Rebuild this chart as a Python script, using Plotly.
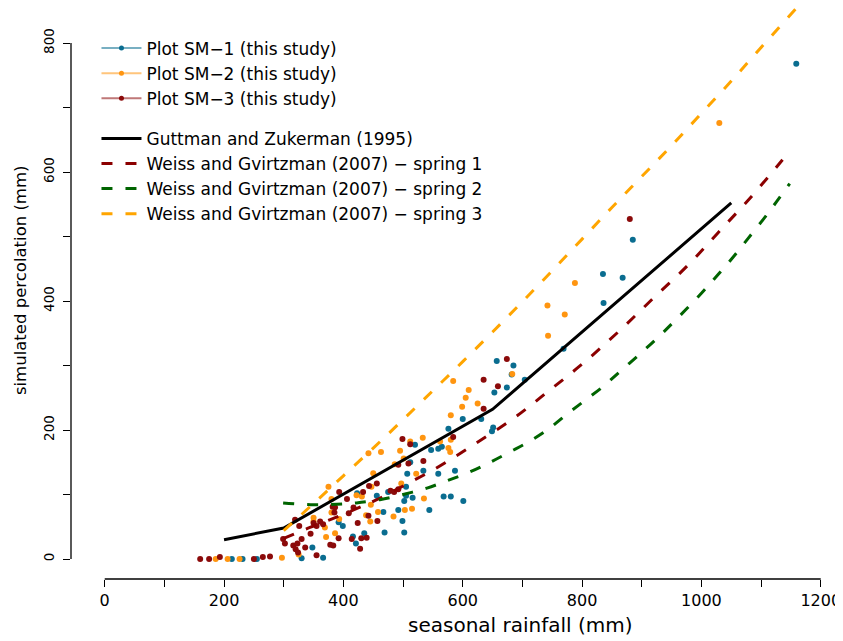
import plotly.graph_objects as go

# measured points, seasonal rainfall (mm) vs simulated percolation (mm)
sm1_x = [213, 231, 255, 330, 366, 348, 392, 399, 416, 421, 435, 423, 456, 469, 467, 475,
         492, 502, 499, 502, 505, 516, 505, 507, 512, 520, 534, 544, 547, 559, 565, 559,
         568, 580, 587, 601, 576, 600, 631, 651, 649, 653, 657, 685, 682, 704, 674, 769,
         835, 868, 836, 885, 1159]
sm1_y = [0, 0, 0, 1, 2, 18, 57, 51, 35, 24, 40, 102, 98, 41, 73, 104,
         76, 90, 59, 41, 98, 95, 112, 132, 150, 177, 137, 76, 169, 171, 174, 132,
         97, 97, 137, 90, 202, 217, 217, 204, 198, 258, 307, 300, 286, 278, 266, 326,
         442, 436, 397, 495, 768]

sm2_x = [186, 206, 226, 297, 325, 350, 350, 369, 371, 380, 375, 380, 386, 393,
         422, 431, 438, 445, 446, 447, 450, 458, 442, 463, 484, 486, 495, 497, 501, 503,
         512, 515, 522, 533, 535, 562, 576, 579, 580, 580, 584, 599, 605, 610, 625,
         683, 742, 743, 771, 788, 1030]
sm2_y = [0, 0, 0, 2, 7, 64, 58, 49, 34, 72, 112, 93, 40, 62,
         99, 97, 68, 58, 84, 112, 133, 73, 164, 166, 66, 147, 168, 117, 156, 76,
         182, 78, 132, 188, 94, 182, 172, 166, 185, 223, 276, 236, 250, 262, 241,
         287, 393, 346, 379, 428, 676]

sm3_x = [160, 175, 193, 250, 265, 277, 299, 302, 316, 320, 324, 336, 330, 319, 326, 323,
         345, 350, 355, 355, 361, 366, 385, 382, 386, 393, 392, 378, 383, 406, 409,
         414, 417, 424, 428, 430, 439, 433, 442, 443, 456, 457, 479, 485, 492, 492,
         499, 509, 512, 534, 584, 635, 635, 659, 674, 880]
sm3_y = [0, 0, 3, 0, 3, 4, 31, 24, 21, 15, 10, 18, 31, 61, 51, 24,
         39, 56, 6, 51, 58, 54, 72, 81, 80, 104, 32, 22, 21, 93, 71,
         31, 80, 56, 16, 32, 33, 104, 67, 113, 117, 59, 106, 104, 108, 146,
         186, 148, 178, 152, 189, 278, 233, 268, 310, 527]

gz_x = [200, 300, 650, 1050]
gz_y = [30, 48, 232, 552]

wg1_x = [300, 344, 378, 417, 456, 520, 556, 618, 685, 746, 805, 864, 919, 978, 1028, 1081, 1136]
wg1_y = [32, 49, 61, 76, 92, 123, 141, 177, 218, 262, 306, 355, 404, 456, 506, 559, 619]

wg2_x = [299, 350, 389, 422, 461, 500, 540, 573, 612, 646, 679, 713, 743, 774, 805, 836,
         864, 897, 922, 953, 1000, 1028, 1054, 1079, 1104, 1126, 1148]
wg2_y = [87, 84, 85, 87, 92, 100, 110, 121, 135, 150, 166, 183, 201, 224, 246, 268,
         291, 318, 339, 367, 412, 441, 469, 498, 527, 554, 582]

wg3_x = [300, 350, 400, 450, 500, 550, 600, 650, 700, 750, 800, 850, 900, 950, 1000, 1050, 1100, 1160]
wg3_y = [44, 86, 129, 172, 216, 261, 306, 352, 399, 447, 496, 545, 593, 641, 691, 741, 793, 855]

blue = "#0a6d90"
orange = "#ff9510"
dred = "#8b0a0a"
font = "DejaVu Sans, Liberation Sans, sans-serif"

fig = go.Figure()

pts = [("Plot SM\u22121 (this study)", sm1_x, sm1_y, blue, "rgba(10,109,144,0.55)"),
       ("Plot SM\u22122 (this study)", sm2_x, sm2_y, orange, "rgba(255,149,16,0.55)"),
       ("Plot SM\u22123 (this study)", sm3_x, sm3_y, dred, "rgba(139,10,10,0.55)")]

for name, xs, ys, c, lc in pts:
    fig.add_trace(go.Scatter(x=xs, y=ys, mode="markers", showlegend=False,
                             marker=dict(color=c, size=6, line=dict(width=0))))
for name, xs, ys, c, lc in pts:
    fig.add_trace(go.Scatter(x=[None], y=[None], mode="lines+markers", name=name,
                             legendgroup="pts", line=dict(color=lc, width=2),
                             marker=dict(color=c, size=5)))

fig.add_trace(go.Scatter(x=gz_x, y=gz_y, mode="lines", name="Guttman and Zukerman (1995)",
                         legendgroup="lit", line=dict(color="black", width=3)))
fig.add_trace(go.Scatter(x=wg1_x, y=wg1_y, mode="lines", line_shape="spline",
                         name="Weiss and Gvirtzman (2007) \u2212 spring 1", legendgroup="lit",
                         line=dict(color="#8b0000", width=3, dash="11px,13px")))
fig.add_trace(go.Scatter(x=wg2_x, y=wg2_y, mode="lines", line_shape="spline",
                         name="Weiss and Gvirtzman (2007) \u2212 spring 2", legendgroup="lit",
                         line=dict(color="#006400", width=3, dash="11px,13px")))
fig.add_trace(go.Scatter(x=wg3_x, y=wg3_y, mode="lines", line_shape="spline",
                         name="Weiss and Gvirtzman (2007) \u2212 spring 3", legendgroup="lit",
                         line=dict(color="#ffa500", width=3, dash="11px,13px")))

# R-style detached axis lines
fig.add_shape(type="line", xref="x", yref="paper", x0=0, x1=1200, y0=0, y1=0,
              line=dict(color="black", width=1.3))
fig.add_shape(type="line", xref="paper", yref="y", x0=0, x1=0, y0=0, y1=800,
              line=dict(color="black", width=1.3))

fig.add_annotation(text="seasonal rainfall (mm)", xref="paper", yref="paper",
                   x=0.5823, y=-0.0806, xanchor="center", yanchor="middle", showarrow=False,
                   font=dict(size=20, color="black", family=font))
fig.add_annotation(text="simulated percolation (mm)", xref="paper", yref="paper",
                   x=-0.066, y=0.5236, xanchor="center", yanchor="middle", textangle=-90,
                   showarrow=False, font=dict(size=16.5, color="black", family=font))

# page body has an 8px margin, so the figure is 8px smaller than the window
fig.update_layout(
    width=835, height=633,
    margin=dict(l=63, r=0, t=0, b=62),
    paper_bgcolor="white", plot_bgcolor="white",
    font=dict(family=font, color="black"),
    xaxis=dict(range=[-56.5, 1237.3], showgrid=False, zeroline=False, showline=False,
               tick0=0, dtick=200, ticks="outside", ticklen=7, tickwidth=1.2, tickcolor="black",
               tickfont=dict(size=16),
               minor=dict(dtick=100, ticks="outside", ticklen=7, tickwidth=1.2, tickcolor="black")),
    yaxis=dict(range=[-31, 854.3], showgrid=False, zeroline=False, showline=False,
               tick0=0, dtick=200, ticks="outside", ticklen=7, tickwidth=1.2, tickcolor="black",
               tickfont=dict(size=13.5), tickangle=-90, ticklabelstandoff=4,
               minor=dict(dtick=100, ticks="outside", ticklen=7, tickwidth=1.2, tickcolor="black")),
    legend=dict(x=0.033, y=0.9605, xanchor="left", yanchor="top", traceorder="grouped",
                tracegroupgap=15, font=dict(size=17), bgcolor="rgba(0,0,0,0)", itemwidth=40),
)

fig.write_html("out.html")
